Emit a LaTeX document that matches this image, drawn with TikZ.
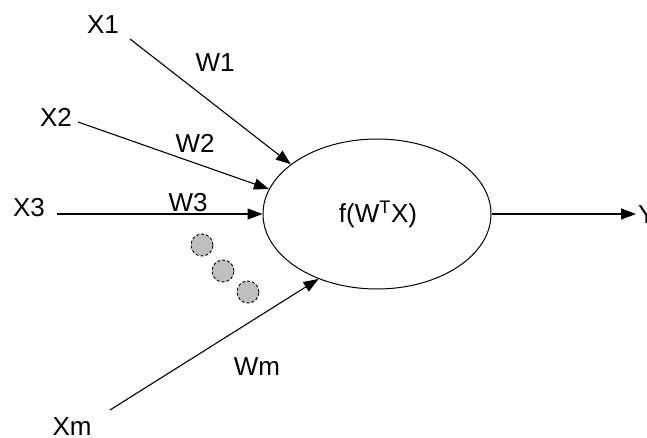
\documentclass[tikz,border=0pt]{standalone}
\usepackage{fontspec}
\setmainfont{Liberation Sans}
\usetikzlibrary{arrows.meta,shapes.geometric}
\tikzset{
  lbl/.style={inner sep=0pt, font=\fontsize{26}{30}\selectfont},
  conn/.style={line width=1.1pt, -{Triangle[length=15pt,width=11pt]}},
  neuron/.style={ellipse, draw, line width=1pt, minimum width=228pt, minimum height=150pt, inner sep=0pt},
  dot/.style={circle, draw, densely dashed, line width=0.9pt, fill=black!25, minimum size=22pt, inner sep=0pt}
}
\begin{document}
\begin{tikzpicture}[x=1pt,y=-1pt]
\clip (0,0) rectangle (647,438);
\fill[white] (0,0) rectangle (647,438);
\node[neuron] (n) at (377,214) {};
\node[lbl] (f) at (378,214) {f(W\textsuperscript{T}X)};
\node[lbl] (x1) at (103,25) {X1};
\node[lbl] (x2) at (56,117) {X2};
\node[lbl] (x3) at (29,208) {X3};
\node[lbl] (xm) at (72,427) {Xm};
\node[lbl] (w1) at (215,63) {W1};
\node[lbl] (w2) at (195,143) {W2};
\node[lbl] (w3) at (188,203) {W3};
\node[lbl] (wm) at (257,367) {Wm};
\node[lbl, anchor=west] (y) at (638,215) {Y};
\coordinate (s1) at (130,39);
\coordinate (s2) at (78,122);
\coordinate (s3) at (57,214);
\coordinate (sm) at (110,410);
\coordinate (yt) at (636,214);
\draw[conn] (s1) -- (n.150);
\draw[conn] (s2) -- (n.167.6);
\draw[conn] (s3) -- (n.west);
\draw[conn] (sm) -- (n.228.6);
\draw[conn] (n.east) -- (yt);
\node[dot] (d1) at (202,245) {};
\node[dot] (d2) at (223,271) {};
\node[dot] (d3) at (248,292) {};
\end{tikzpicture}
\end{document}
